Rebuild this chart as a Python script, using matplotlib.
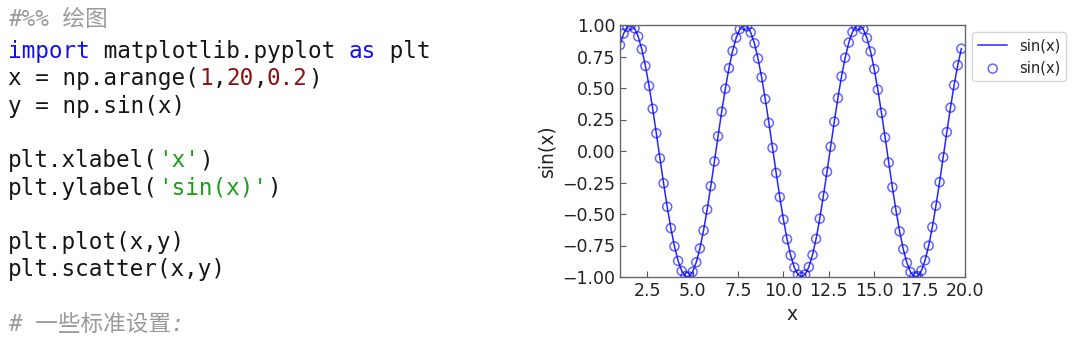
import matplotlib
matplotlib.use("Agg")
import matplotlib.pyplot as plt
from matplotlib.ticker import MultipleLocator

# ---- data ----
x_values = [1.0, 1.2, 1.4, 1.6, 1.8, 2.0, 2.2, 2.4, 2.6, 2.8,
            3.0, 3.2, 3.4, 3.6, 3.8, 4.0, 4.2, 4.4, 4.6, 4.8,
            5.0, 5.2, 5.4, 5.6, 5.8, 6.0, 6.2, 6.4, 6.6, 6.8,
            7.0, 7.2, 7.4, 7.6, 7.8, 8.0, 8.2, 8.4, 8.6, 8.8,
            9.0, 9.2, 9.4, 9.6, 9.8, 10.0, 10.2, 10.4, 10.6, 10.8,
            11.0, 11.2, 11.4, 11.6, 11.8, 12.0, 12.2, 12.4, 12.6, 12.8,
            13.0, 13.2, 13.4, 13.6, 13.8, 14.0, 14.2, 14.4, 14.6, 14.8,
            15.0, 15.2, 15.4, 15.6, 15.8, 16.0, 16.2, 16.4, 16.6, 16.8,
            17.0, 17.2, 17.4, 17.6, 17.8, 18.0, 18.2, 18.4, 18.6, 18.8,
            19.0, 19.2, 19.4, 19.6, 19.8]
sin_values = [0.841, 0.932, 0.985, 1.000, 0.974, 0.909, 0.808, 0.675, 0.516, 0.335,
              0.141, -0.058, -0.256, -0.443, -0.612, -0.757, -0.872, -0.952, -0.994, -0.996,
              -0.959, -0.883, -0.773, -0.631, -0.465, -0.279, -0.083, 0.117, 0.312, 0.494,
              0.657, 0.794, 0.899, 0.968, 0.999, 0.989, 0.941, 0.855, 0.734, 0.585,
              0.412, 0.223, 0.025, -0.174, -0.366, -0.544, -0.700, -0.828, -0.924, -0.981,
              -1.000, -0.980, -0.921, -0.825, -0.697, -0.537, -0.357, -0.165, 0.034, 0.232,
              0.420, 0.592, 0.740, 0.860, 0.944, 0.991, 0.999, 0.967, 0.896, 0.790,
              0.650, 0.486, 0.303, 0.108, -0.092, -0.288, -0.473, -0.638, -0.779, -0.887,
              -0.961, -0.997, -0.993, -0.950, -0.868, -0.751, -0.604, -0.434, -0.247, -0.049,
              0.150, 0.344, 0.523, 0.681, 0.812]
series_label = "sin(x)"
x_label = "x"
y_label = "sin(x)"

# code listing shown on the left: (line index, [(text, kind), ...])
code_lines = [
    (0, [("#%% 绘图", "comment")]),
    (1, [("import", "kw"), (" matplotlib.pyplot ", "plain"), ("as", "kw"), (" plt", "plain")]),
    (2, [("x = np.arange(", "plain"), ("1", "num"), (",", "plain"), ("20", "num"),
         (",", "plain"), ("0.2", "num"), (")", "plain")]),
    (3, [("y = np.sin(x)", "plain")]),
    (5, [("plt.xlabel(", "plain"), ("'x'", "str"), (")", "plain")]),
    (6, [("plt.ylabel(", "plain"), ("'sin(x)'", "str"), (")", "plain")]),
    (8, [("plt.plot(x,y)", "plain")]),
    (9, [("plt.scatter(x,y)", "plain")]),
    (11, [("# 一些标准设置:", "comment")]),
]
kind_colors = {"plain": "#151515", "kw": "#1111ee", "num": "#8b1010",
               "str": "#1a9e1a", "comment": "#9a9a9a"}

W, H, DPI = 1080, 337, 100
fig = plt.figure(figsize=(W / DPI, H / DPI), dpi=DPI)

# ---- code text on the left ----
code_fs = 16.3
char_w = 0.6021 * code_fs * DPI / 72.0  # px per monospace cell
x0_px = 8
baselines = {0: 26}
for i in range(1, 12):
    baselines[i] = 58 + (i - 1) * 27.3
for idx, segs in code_lines:
    col = 0
    ybase = 1 - baselines[idx] / H
    for txt, kind in segs:
        if kind == "comment":
            fig.text(x0_px / W, ybase, txt, fontsize=code_fs, color=kind_colors[kind],
                     family=["DejaVu Sans Mono", "Noto Sans CJK SC"], style="italic",
                     va="baseline", ha="left")
        else:
            fig.text((x0_px + col * char_w) / W, ybase, txt, fontsize=code_fs,
                     color=kind_colors[kind], family="DejaVu Sans Mono",
                     va="baseline", ha="left")
        col += len(txt)

# ---- chart ----
ax = fig.add_axes([620 / W, 1 - 277 / H, 345 / W, 252 / H])
ax.plot(x_values, sin_values, color="blue", lw=1.1, alpha=0.85, label=series_label)
ax.scatter(x_values, sin_values, s=42, facecolors="none", edgecolors="blue",
           linewidths=1.1, alpha=0.6, label=series_label)
ax.set_xlim(1, 20)
ax.set_ylim(-1, 1)
ax.xaxis.set_major_locator(MultipleLocator(2.5))
ax.yaxis.set_major_locator(MultipleLocator(0.25))
ax.set_xlabel(x_label, fontsize=13.5, color="#222222")
ax.set_ylabel(y_label, fontsize=13.5, color="#222222")
ax.tick_params(direction="in", labelsize=12.5, colors="#555555", labelcolor="#222222",
               length=4)
for sp in ax.spines.values():
    sp.set_color("#666666")
    sp.set_linewidth(1.0)
leg = ax.legend(loc="upper left", bbox_to_anchor=(1.0, 1.0), fontsize=10.5,
                frameon=True, borderaxespad=0.5)
for t in leg.get_texts():
    t.set_color("#222222")

fig.savefig("out.png", dpi=DPI)
